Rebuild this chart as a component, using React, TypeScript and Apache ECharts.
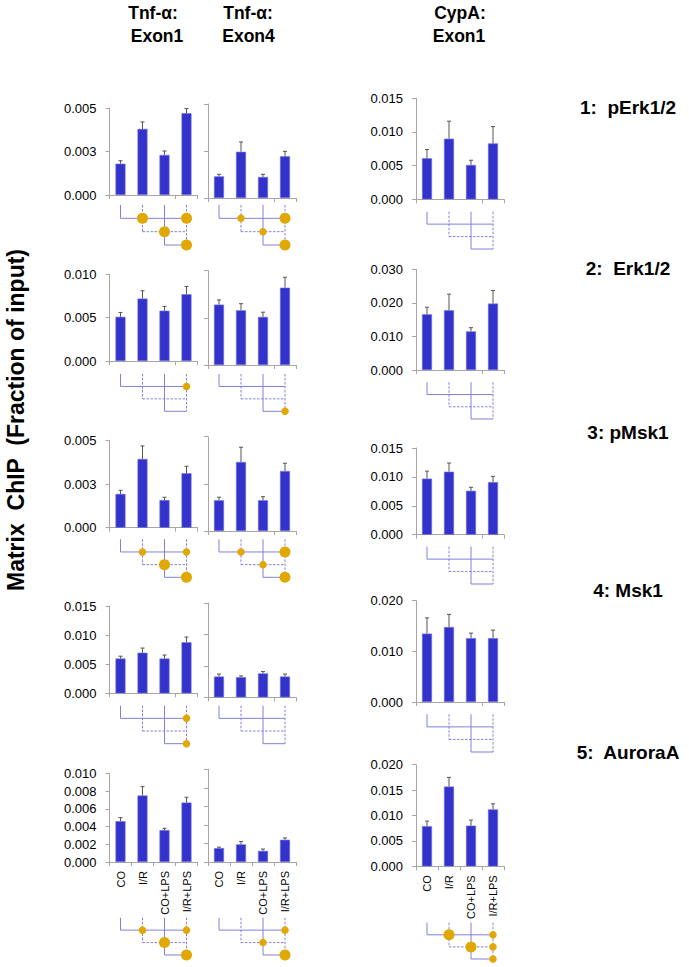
import { useEffect, useRef } from 'react';
import * as echarts from 'echarts';

// ---------- data ----------
const CATEGORIES = ['CO', 'I/R', 'CO+LPS', 'I/R+LPS'];
const ROW_LABELS = ['1:  pErk1/2', '2:  Erk1/2', '3: pMsk1', '4: Msk1', '5:  AuroraA'];
const HEADER_LINE1 = ['Tnf-α:', 'Tnf-α:', 'CypA:'];
const HEADER_LINE2 = ['Exon1', 'Exon4', 'Exon1'];
const Y_TITLE = 'Matrix  ChIP  (Fraction of input)';

// Tnf-α Exon1 (rows: pErk1/2, Erk1/2, pMsk1, Msk1, AuroraA)
const TNF_EX1_MEAN = [
  [0.0018, 0.0038, 0.0023, 0.0047],
  [0.0051, 0.0072, 0.0058, 0.0077],
  [0.00194, 0.00395, 0.00159, 0.00313],
  [0.0060, 0.0070, 0.0060, 0.0088],
  [0.0046, 0.0075, 0.0036, 0.0067],
];
const TNF_EX1_ERR = [
  [0.00017, 0.0004, 0.00023, 0.00027],
  [0.0005, 0.0009, 0.0005, 0.0009],
  [0.00021, 0.00075, 0.00016, 0.0004],
  [0.0004, 0.0008, 0.0006, 0.0009],
  [0.0004, 0.0010, 0.0002, 0.0006],
];
// Tnf-α Exon4
const TNF_EX4_MEAN = [
  [0.00115, 0.00246, 0.00112, 0.00222],
  [0.0064, 0.0058, 0.0051, 0.0082],
  [0.00163, 0.00366, 0.00163, 0.00318],
  [0.0033, 0.0032, 0.0038, 0.0033],
  [0.0015, 0.0019, 0.0012, 0.0024],
];
const TNF_EX4_ERR = [
  [0.00011, 0.00052, 0.00014, 0.00026],
  [0.0005, 0.0007, 0.0005, 0.0011],
  [0.00016, 0.00078, 0.00019, 0.00041],
  [0.0004, 0.0002, 0.0003, 0.0004],
  [0.0001, 0.0003, 0.0002, 0.0002],
];
// CypA Exon1
const CYPA_MEAN = [
  [0.0061, 0.0090, 0.0051, 0.0083],
  [0.0166, 0.0178, 0.0115, 0.0198],
  [0.0097, 0.0109, 0.0076, 0.0091],
  [0.0135, 0.0148, 0.0126, 0.0126],
  [0.0079, 0.0157, 0.0080, 0.0112],
];
const CYPA_ERR = [
  [0.0013, 0.0026, 0.0007, 0.0025],
  [0.0021, 0.0048, 0.0011, 0.0039],
  [0.0013, 0.0015, 0.0006, 0.0010],
  [0.0031, 0.0025, 0.0010, 0.0016],
  [0.0010, 0.0018, 0.0011, 0.0011],
];

// y-axis ranges (Tnf columns share per row)
const TNF_AXIS_MAX = [0.005, 0.01, 0.005, 0.015, 0.01];
const TNF_AXIS_STEP = [0.0025, 0.005, 0.0025, 0.005, 0.002];
const CYPA_AXIS_MAX = [0.015, 0.03, 0.015, 0.02, 0.02];
const CYPA_AXIS_STEP = [0.005, 0.01, 0.005, 0.01, 0.005];

// significance marks: [category index, comparison level, strength (1 weak, 2 strong)]
const TNF_EX1_SIG = [
  [[1, 1, 2], [3, 1, 2], [2, 2, 2], [3, 3, 2]],
  [[3, 1, 1]],
  [[1, 1, 1], [3, 1, 1], [2, 2, 2], [3, 3, 2]],
  [[3, 1, 1], [3, 3, 1]],
  [[1, 1, 1], [3, 1, 1], [2, 2, 2], [3, 3, 2]],
];
const TNF_EX4_SIG = [
  [[1, 1, 1], [3, 1, 2], [2, 2, 1], [3, 3, 2]],
  [[3, 3, 1]],
  [[1, 1, 1], [3, 1, 2], [2, 2, 1], [3, 3, 2]],
  [],
  [[3, 1, 1], [2, 2, 1], [3, 3, 2]],
];
const CYPA_SIG = [
  [],
  [],
  [],
  [],
  [[1, 1, 2], [3, 1, 1], [2, 2, 2], [3, 2, 1], [3, 3, 1]],
];

// comparison diagram structure
const VERTICALS = [[0, 1, 0], [1, 2, 1], [2, 3, 0], [3, 3, 1]]; // [category, down to level, dashed]
const HORIZONTALS = [[1, 0, 3, 0], [2, 1, 3, 1], [3, 2, 3, 0]]; // [level, from, to, dashed]

// ---------- layout ----------
const COL_LEFT = [109.5, 208, 416];
const PLOT_W = 88;
const BAR_TOP = [
  [108, 104, 98.3],
  [274.3, 270.7, 269.3],
  [440.7, 436.7, 448],
  [606.3, 603, 600.7],
  [773.3, 769.3, 764.7],
];
const BAR_BOTTOM = [
  [195, 198, 199.3],
  [361, 365, 370],
  [527.7, 531, 534.7],
  [693.3, 697.3, 702],
  [862, 862, 866.3],
];
const DIAG_TOP = [[205, 211.7], [374, 382.3], [539.3, 546.7], [705.7, 714.3], [917.7, 922.7]];
const DIAG_BOTTOM = [[245, 249], [411.3, 419], [577.3, 584], [743.7, 752], [955, 959]];

const BAR_COLOR = '#3333cc';
const AXIS_COLOR = '#a6a6a6';
const ERR_COLOR = '#555555';
const DIAG_COLOR = '#8080dc';
const DOT_COLOR = '#e0a800';
const FONT = '"Liberation Sans", Arial, sans-serif';

function fmt(v: number) {
  return (Math.round(v * 1000 + 1e-6) / 1000).toFixed(3);
}

function buildOption() {
  const grid: any[] = [];
  const xAxis: any[] = [];
  const yAxis: any[] = [];
  const series: any[] = [];

  const means = [TNF_EX1_MEAN, TNF_EX4_MEAN, CYPA_MEAN];
  const errs = [TNF_EX1_ERR, TNF_EX4_ERR, CYPA_ERR];
  const sigs = [TNF_EX1_SIG, TNF_EX4_SIG, CYPA_SIG];

  for (let r = 0; r < 5; r++) {
    for (let c = 0; c < 3; c++) {
      const gi = grid.length;
      const top = BAR_TOP[r][c];
      grid.push({ left: COL_LEFT[c], top, width: PLOT_W, height: BAR_BOTTOM[r][c] - top });
      xAxis.push({
        gridIndex: gi,
        type: 'category',
        data: CATEGORIES,
        axisLine: { lineStyle: { color: AXIS_COLOR, width: 1 } },
        axisTick: { show: true, length: 4, lineStyle: { color: AXIS_COLOR } },
        axisLabel:
          r === 4
            ? { show: true, interval: 0, rotate: 90, margin: 9, fontSize: 11, fontFamily: FONT, color: '#000' }
            : { show: false },
      });
      const isCyp = c === 2;
      yAxis.push({
        gridIndex: gi,
        type: 'value',
        min: 0,
        max: isCyp ? CYPA_AXIS_MAX[r] : TNF_AXIS_MAX[r],
        interval: isCyp ? CYPA_AXIS_STEP[r] : TNF_AXIS_STEP[r],
        axisLine: { show: true, lineStyle: { color: AXIS_COLOR, width: 1 } },
        axisTick: { show: true, length: 4, lineStyle: { color: AXIS_COLOR } },
        splitLine: { show: false },
        axisLabel:
          c === 1
            ? { show: false }
            : { show: true, margin: 13, fontSize: 13, fontFamily: FONT, color: '#000', formatter: fmt },
      });
      const m = means[c][r];
      const e = errs[c][r];
      series.push({
        type: 'bar',
        xAxisIndex: gi,
        yAxisIndex: gi,
        data: m,
        barWidth: 10,
        itemStyle: { color: BAR_COLOR, borderColor: '#6b6be0', borderWidth: 0.6 },
        silent: true,
      });
      series.push({
        type: 'custom',
        xAxisIndex: gi,
        yAxisIndex: gi,
        data: m.map((v, i) => [i, v, v + e[i]]),
        z: 5,
        renderItem: (params: any, api: any) => {
          const p0 = api.coord([api.value(0), api.value(1)]);
          const p1 = api.coord([api.value(0), api.value(2)]);
          return {
            type: 'group',
            children: [
              { type: 'line', shape: { x1: p0[0], y1: p0[1], x2: p1[0], y2: p1[1] }, style: { stroke: ERR_COLOR, lineWidth: 1 } },
              { type: 'line', shape: { x1: p1[0] - 2, y1: p1[1], x2: p1[0] + 2, y2: p1[1] }, style: { stroke: ERR_COLOR, lineWidth: 1 } },
            ],
          };
        },
      });
    }
  }

  // diagrams
  for (let r = 0; r < 5; r++) {
    for (let c = 0; c < 3; c++) {
      const gi = grid.length;
      const dc = c === 2 ? 1 : 0;
      const top = DIAG_TOP[r][dc];
      grid.push({ left: COL_LEFT[c], top, width: PLOT_W, height: DIAG_BOTTOM[r][dc] - top });
      xAxis.push({ gridIndex: gi, type: 'value', min: -0.5, max: 3.5, show: false });
      yAxis.push({ gridIndex: gi, type: 'value', min: 0, max: 3, inverse: true, show: false });
      const segs: number[][] = [];
      VERTICALS.forEach(([x, lvl, d]) => segs.push([x, 0, x, lvl, d]));
      HORIZONTALS.forEach(([lvl, a, b, d]) => segs.push([a, lvl, b, lvl, d]));
      series.push({
        type: 'custom',
        xAxisIndex: gi,
        yAxisIndex: gi,
        data: segs,
        silent: true,
        renderItem: (params: any, api: any) => {
          const p0 = api.coord([api.value(0), api.value(1)]);
          const p1 = api.coord([api.value(2), api.value(3)]);
          return {
            type: 'line',
            shape: { x1: p0[0], y1: p0[1], x2: p1[0], y2: p1[1] },
            style: { stroke: DIAG_COLOR, lineWidth: 1, lineDash: api.value(4) ? [2.5, 1.5] : null },
          };
        },
      });
      series.push({
        type: 'scatter',
        xAxisIndex: gi,
        yAxisIndex: gi,
        data: sigs[c][r],
        symbol: 'circle',
        symbolSize: (v: number[]) => (v[2] === 2 ? 11 : 7.5),
        itemStyle: { color: DOT_COLOR, opacity: 1 },
        z: 6,
        silent: true,
      });
    }
  }

  const headFont = `bold 17.5px ${FONT}`;
  const HEAD_X1 = [153, 248, 460];
  const HEAD_X2 = [157, 248.5, 459];
  const ROW_Y = [107, 268, 432, 590, 752];
  const graphic: any[] = [];
  HEADER_LINE1.forEach((t, i) =>
    graphic.push({ type: 'text', x: HEAD_X1[i], y: 13, style: { text: t, font: headFont, fill: '#000', align: 'center', verticalAlign: 'middle' } })
  );
  HEADER_LINE2.forEach((t, i) =>
    graphic.push({ type: 'text', x: HEAD_X2[i], y: 36, style: { text: t, font: headFont, fill: '#000', align: 'center', verticalAlign: 'middle' } })
  );
  ROW_LABELS.forEach((t, i) =>
    graphic.push({ type: 'text', x: 628, y: ROW_Y[i], style: { text: t, font: `bold 19px ${FONT}`, fill: '#000', align: 'center', verticalAlign: 'middle' } })
  );
  graphic.push({
    type: 'text',
    x: 16,
    y: 420,
    rotation: Math.PI / 2,
    style: { text: Y_TITLE, font: `bold 23px ${FONT}`, fill: '#000', align: 'center', verticalAlign: 'middle' },
  });

  return { animation: false, backgroundColor: '#fff', grid, xAxis, yAxis, series, graphic };
}

export default function App() {
  const ref = useRef<HTMLDivElement>(null);
  useEffect(() => {
    if (!ref.current) return;
    const chart = echarts.init(ref.current, undefined, { renderer: 'svg' });
    chart.setOption(buildOption() as any);
    return () => chart.dispose();
  }, []);
  return <div ref={ref} style={{ position: 'absolute', left: 0, top: 0, width: 689, height: 967 }} />;
}
